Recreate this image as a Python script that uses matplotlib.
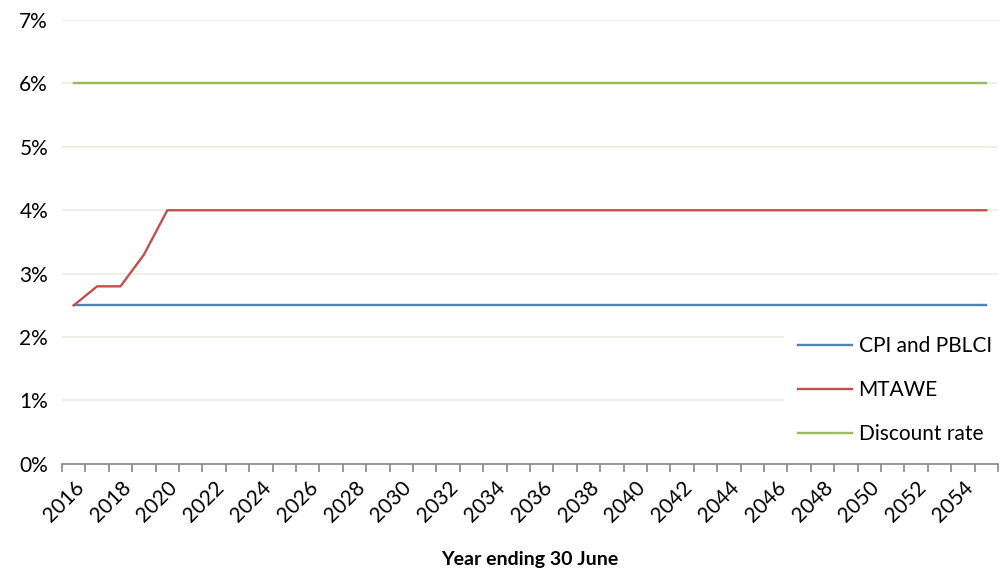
import matplotlib.pyplot as plt
import numpy as np

plt.rcParams['font.family'] = ['Lato', 'DejaVu Sans']

# data
years = list(range(2016, 2056))
cpi = [2.5] * len(years)
mtawe = [2.5, 2.8, 2.8, 3.3] + [4.0] * (len(years) - 4)
discount = [6.0] * len(years)

x = np.arange(len(years))

fig = plt.figure(figsize=(10, 5.72), dpi=100)
ax = fig.add_axes([0.062, 0.189, 0.936, 0.776])

ax.plot(x, cpi, color='#4F81BD', lw=1.7, label='CPI and PBLCI', zorder=3)
ax.plot(x, mtawe, color='#C0504D', lw=1.7, label='MTAWE', zorder=3)
ax.plot(x, discount, color='#9BBB59', lw=1.7, label='Discount rate', zorder=3)

ax.set_xlim(-0.5, len(years) - 0.5)
ax.set_ylim(0, 7)
ax.set_yticks(range(0, 8))
ax.set_yticklabels(['%d%%' % v for v in range(0, 8)], fontsize=15)
ax.yaxis.grid(True, color='#EEECE1', lw=1.2)
ax.set_axisbelow(True)
ax.tick_params(axis='y', length=0, pad=10)

# category ticks: labels every second year, tick marks on boundaries
ax.set_xticks(x[::2])
ax.set_xticklabels([str(y) for y in years[::2]], rotation=45, ha='right',
                   rotation_mode='anchor', fontsize=15)
ax.set_xticks(np.arange(-0.5, len(years)), minor=True)
ax.tick_params(axis='x', which='major', length=0, pad=10)
ax.tick_params(axis='x', which='minor', length=6, color='#868686', width=1.2)

for s in ['top', 'right', 'left']:
    ax.spines[s].set_visible(False)
ax.spines['bottom'].set_color('#868686')
ax.spines['bottom'].set_linewidth(1.2)

ax.set_xlabel('Year ending 30 June', fontsize=14, fontweight='bold', labelpad=18)

leg = ax.legend(loc='lower right', bbox_to_anchor=(1.02, -0.012), fontsize=15,
                frameon=True, fancybox=False, handlelength=2.6,
                labelspacing=1.15, borderpad=0.7, handletextpad=0.3)
leg.get_frame().set_edgecolor('none')
leg.get_frame().set_facecolor('white')
leg.get_frame().set_alpha(1)
leg.set_zorder(5)

fig.savefig('out.png', dpi=100)
